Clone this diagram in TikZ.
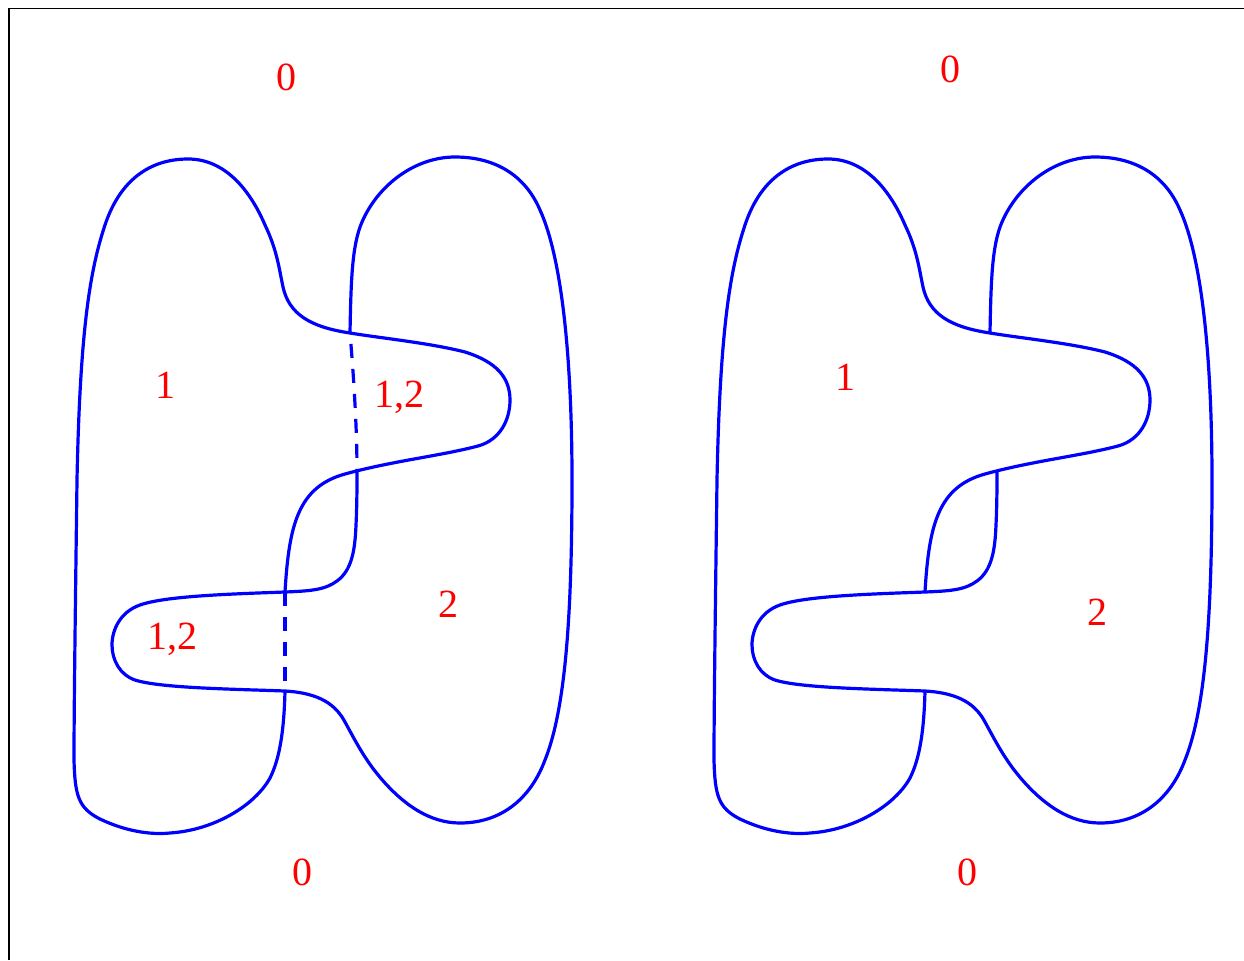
\documentclass[tikz,border=0pt]{standalone}
\usepackage{fontspec}
\setmainfont{Liberation Serif}
\newcommand\blobsolid{%
  % blob A (region 1), solid part, from lower-tongue crossing round to bottom crossing
  \draw[curve] (285,592) .. controls (289,525) and (298,487) .. (345,474)
    .. controls (392,461) and (440,456) .. (478,446)
    .. controls (500,440) and (510,420) .. (510,400)
    .. controls (510,378) and (497,362) .. (465,352)
    .. controls (430,343) and (380,338) .. (350,333)
    .. controls (310,327) and (289,314) .. (283,287)
    .. controls (279,268) and (277,250) .. (265,225)
    .. controls (250,190) and (225,159) .. (188,159)
    .. controls (150,159) and (120,180) .. (105,225)
    .. controls (90,270) and (80,330) .. (77,480)
    .. controls (76,560) and (74,700) .. (74,760)
    .. controls (75,795) and (78,808) .. (100,819)
    .. controls (125,831) and (150,835) .. (170,833)
    .. controls (215,830) and (255,805) .. (270,778)
    .. controls (280,758) and (284,730) .. (285,691);
  % blob B (region 2), solid part
  \draw[curve] (350,333) .. controls (351,280) and (352,245) .. (362,222)
    .. controls (378,185) and (415,157) .. (455,157)
    .. controls (495,157) and (525,175) .. (540,210)
    .. controls (565,265) and (572,380) .. (572,480)
    .. controls (572,620) and (565,710) .. (545,760)
    .. controls (530,800) and (500,823) .. (460,823)
    .. controls (430,823) and (405,805) .. (385,783)
    .. controls (365,761) and (355,740) .. (345,722)
    .. controls (336,705) and (320,693) .. (285,691)
    .. controls (230,689) and (160,688) .. (135,680)
    .. controls (120,675) and (112,660) .. (112,645)
    .. controls (112,630) and (120,612) .. (140,605)
    .. controls (165,596) and (230,594) .. (285,592)
    .. controls (310,591) and (325,590) .. (337,581)
    .. controls (352,570) and (355,550) .. (356,525)
    .. controls (357,505) and (357,485) .. (357,471);
}
\begin{document}
\begin{tikzpicture}[x=0.5pt,y=-0.5pt,
  curve/.style={blue, line width=1.6pt, line join=round},
  hidden/.style={blue, line width=1.6pt, dash pattern=on 7pt off 5.5pt},
  lbl/.style={red, anchor=base, inner sep=0pt, font=\fontsize{20}{24}\selectfont}]
\useasboundingbox (0,0) rectangle (1244,960);
\draw[line width=0.6pt] (9,960) -- (9,8.5) -- (1244,8.5);
% left picture
\begin{scope}
  \blobsolid
  \coordinate (J1) at (350,333);
  \coordinate (J4) at (357,471);
  \coordinate (J2) at (285,592);
  \coordinate (J3) at (285,691);
  \draw[hidden, dash phase=7pt] (J1) .. controls (354,380) and (357,430) .. (J4);
  \draw[hidden] (J2) -- (J3);
\end{scope}
\node[lbl] (l0top) at (286,90) {0};
\node[lbl] (l1) at (165,398) {1};
\node[lbl] (l12a) at (399,407) {1,2};
\node[lbl] (l12b) at (172,649) {1,2};
\node[lbl] (l2) at (448,617) {2};
\node[lbl] (l0bot) at (302,885) {0};
% right picture
\begin{scope}[shift={(640,0)}]
  \blobsolid
\end{scope}
\node[lbl] (r0top) at (950,82) {0};
\node[lbl] (r1) at (845,390) {1};
\node[lbl] (r2) at (1097,625) {2};
\node[lbl] (r0bot) at (967,885) {0};
\end{tikzpicture}
\end{document}
